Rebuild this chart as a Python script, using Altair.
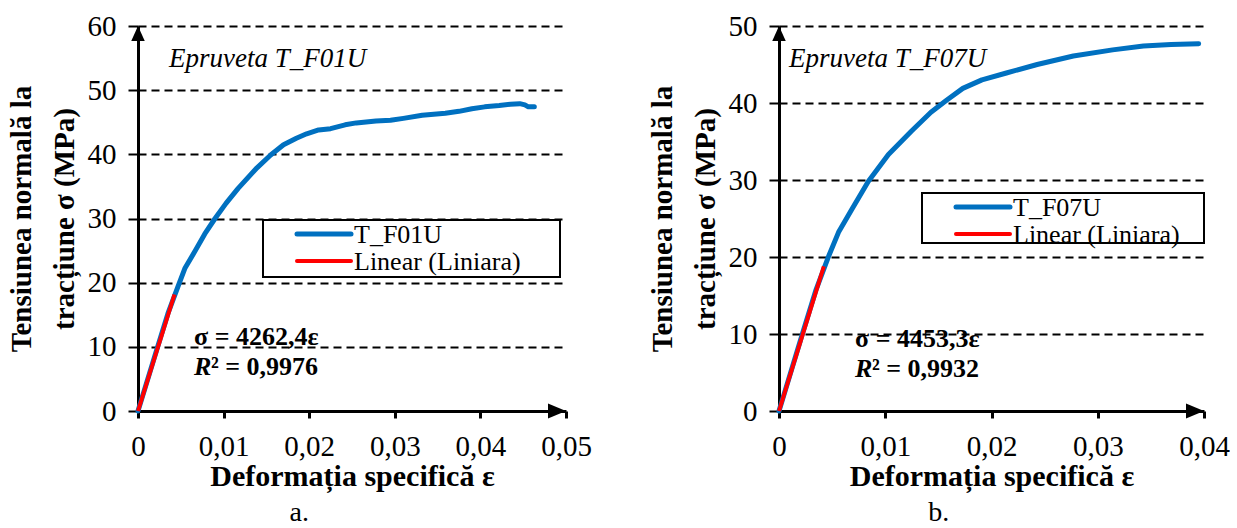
import altair as alt
import pandas as pd

FONT = "Liberation Serif, Times New Roman, Times, serif"
BLUE = "#0070C0"
RED = "#FF0000"

# Specimen T_F01U: specific strain and normal tensile stress (MPa)
f01_strain = [0, 0.0022, 0.0035, 0.0047, 0.0055, 0.0067, 0.0078, 0.009, 0.0103, 0.0117,
              0.0139, 0.0155, 0.017, 0.0185, 0.0197, 0.0211, 0.0225, 0.0242, 0.0255,
              0.0278, 0.0295, 0.031, 0.0332, 0.0359, 0.0375, 0.039, 0.0405, 0.0422,
              0.0435, 0.0446, 0.0452, 0.0456, 0.0463]
f01_stress = [0, 9.6, 15.2, 19.5, 22.3, 25.0, 27.6, 30.0, 32.4, 34.7,
              37.9, 39.9, 41.5, 42.5, 43.2, 43.8, 44.0, 44.6, 44.9,
              45.2, 45.3, 45.6, 46.1, 46.4, 46.7, 47.1, 47.4, 47.6,
              47.8, 47.9, 47.7, 47.4, 47.4]

# Specimen T_F07U
f07_strain = [0, 0.0022, 0.0035, 0.0047, 0.0056, 0.0069, 0.0084, 0.0103, 0.0125,
              0.0143, 0.0158, 0.0173, 0.0191, 0.0214, 0.0243, 0.0277, 0.0314,
              0.0343, 0.0369, 0.0395]
f07_stress = [0, 10.0, 15.8, 20.2, 23.2, 26.3, 29.8, 33.3, 36.4,
              38.8, 40.4, 41.9, 43.0, 43.9, 45.0, 46.1, 46.9,
              47.4, 47.6, 47.7]

# Linear fits of the elastic zone: slope (MPa), R², last strain of the fitted range
f01_slope, f01_r2, f01_fit_end = 4262.4, "0,9976", 0.00426
f07_slope, f07_r2, f07_fit_end = 4453.3, "0,9932", 0.00422

f01_xticks = [0, 0.01, 0.02, 0.03, 0.04, 0.05]
f01_yticks = [0, 10, 20, 30, 40, 50, 60]
f07_xticks = [0, 0.01, 0.02, 0.03, 0.04]
f07_yticks = [0, 10, 20, 30, 40, 50]

fit_label = "Linear (Liniara)"
x_title = "Deformația specifică ε"
y_title = ["Tensiunea normală la", "tracțiune σ (MPa)"]

# arrow heads drawn at the ends of both axes
ARROW_UP = "M0,0L-0.45,1L0.45,1Z"
ARROW_RIGHT = "M0,0L-1,-0.42L-1,0.42Z"


def panel(strain, stress, slope, r2, fit_end, x_ticks, y_ticks, name, caption,
          plot_w, text_pos, eq_pos, box):
    curve = pd.DataFrame({"strain": strain, "stress": stress})
    fit = pd.DataFrame({"strain": [0, fit_end], "stress": [0, slope * fit_end]})
    ends = pd.DataFrame({"strain": [0, x_ticks[-1]], "stress": [y_ticks[-1], 0],
                         "dir": ["up", "right"]})

    x_enc = alt.X(
        "strain:Q",
        scale=alt.Scale(domain=[0, x_ticks[-1]], nice=False),
        axis=alt.Axis(
            values=x_ticks, grid=False, labelFlush=False,
            labelExpr="replace(format(datum.value, '~g'), '.', ',')",
            domainColor="black", domainWidth=3, tickColor="black", tickWidth=3,
            tickSize=7, labelFont=FONT, labelFontSize=29, labelColor="black",
            labelPadding=14, title=x_title, titleFont=FONT, titleFontSize=30,
            titleFontWeight="bold", titleColor="black", titlePadding=0,
        ),
    )
    y_enc = alt.Y(
        "stress:Q",
        scale=alt.Scale(domain=[0, y_ticks[-1]], nice=False),
        axis=alt.Axis(
            values=y_ticks, grid=True, gridColor="black", gridDash=[8, 5],
            gridWidth=2, gridOpacity=1, labelFlush=False,
            domainColor="black", domainWidth=3, tickColor="black", tickWidth=2,
            tickSize=10, labelFont=FONT, labelFontSize=29, labelColor="black",
            labelPadding=12, title=y_title, titleFont=FONT, titleFontSize=29,
            titleFontWeight="bold", titleColor="black", titleLineHeight=43,
            titlePadding=8,
        ),
    )

    one = pd.DataFrame({"k": [0]})

    line = alt.Chart(curve).mark_line(color=BLUE, strokeWidth=5, strokeCap="round",
                                      strokeJoin="round").encode(x=x_enc, y=y_enc)
    trend = alt.Chart(fit).mark_line(color=RED, strokeWidth=4).encode(x=x_enc, y=y_enc)

    arrow_up = alt.Chart(ends).transform_filter("datum.dir == 'up'").mark_point(
        shape=ARROW_UP, filled=True, color="black", opacity=1, size=900
    ).encode(x=x_enc, y=y_enc)
    arrow_right = alt.Chart(ends).transform_filter("datum.dir == 'right'").mark_point(
        shape=ARROW_RIGHT, filled=True, color="black", opacity=1, size=1296
    ).encode(x=x_enc, y=y_enc)

    specimen = alt.Chart(one).mark_text(
        text="Epruveta " + name, font=FONT, fontSize=27, fontStyle="italic",
        align="left", baseline="middle", color="black"
    ).encode(x=alt.value(text_pos[0]), y=alt.value(text_pos[1]))

    eq_text = "σ = " + f"{slope:.1f}".replace(".", ",") + "ε"
    eq1 = alt.Chart(one).mark_text(
        text=eq_text, font=FONT, fontSize=26, fontWeight="bold",
        align="left", baseline="middle", color="black"
    ).encode(x=alt.value(eq_pos[0]), y=alt.value(eq_pos[1]))
    eq2a = alt.Chart(one).mark_text(
        text="R", font=FONT, fontSize=26, fontWeight="bold", fontStyle="italic",
        align="left", baseline="middle", color="black"
    ).encode(x=alt.value(eq_pos[0]), y=alt.value(eq_pos[1] + 30))
    eq2b = alt.Chart(one).mark_text(
        text="² = " + r2, font=FONT, fontSize=26, fontWeight="bold",
        align="left", baseline="middle", color="black"
    ).encode(x=alt.value(eq_pos[0] + 17), y=alt.value(eq_pos[1] + 30))

    bx0, by0, bx1, by1 = box
    frame = alt.Chart(one).mark_rect(fill="white", stroke="black", strokeWidth=2).encode(
        x=alt.value(bx0), x2=alt.value(bx1), y=alt.value(by0), y2=alt.value(by1)
    )
    legend_layers = [frame]
    row_y = [by0 + 14, by0 + 41]
    for ry, color, width, label in zip(row_y, [BLUE, RED], [5, 4], [name, fit_label]):
        legend_layers.append(
            alt.Chart(one).mark_rule(color=color, strokeWidth=width, strokeCap="round").encode(
                x=alt.value(bx0 + 34), x2=alt.value(bx0 + 88), y=alt.value(ry)
            )
        )
        legend_layers.append(
            alt.Chart(one).mark_text(
                text=label, font=FONT, fontSize=26, align="left", baseline="middle",
                color="black"
            ).encode(x=alt.value(bx0 + 91), y=alt.value(ry + 1))
        )

    return alt.layer(
        line, trend, arrow_up, arrow_right, specimen, eq1, eq2a, eq2b, *legend_layers
    ).properties(
        width=plot_w,
        height=385,
        title=alt.TitleParams(
            text=caption, orient="bottom", anchor="middle", frame="bounds",
            font=FONT, fontSize=28, fontWeight="normal", color="black", offset=8,
        ),
    )


left = panel(f01_strain, f01_stress, f01_slope, f01_r2, f01_fit_end,
             f01_xticks, f01_yticks, "T_F01U", "a.", 428,
             text_pos=(31, 33), eq_pos=(56, 311), box=(125, 194, 422, 251))
right = panel(f07_strain, f07_stress, f07_slope, f07_r2, f07_fit_end,
              f07_xticks, f07_yticks, "T_F07U", "b.", 425,
              text_pos=(10, 33), eq_pos=(76, 313), box=(143, 167, 425, 217))

chart = alt.hconcat(left, right, spacing=56).properties(
    padding={"left": 7, "top": 12, "right": 0, "bottom": 0}
).configure_view(stroke=None)

chart.save("out.html", embed_options={"renderer": "svg", "actions": False})
